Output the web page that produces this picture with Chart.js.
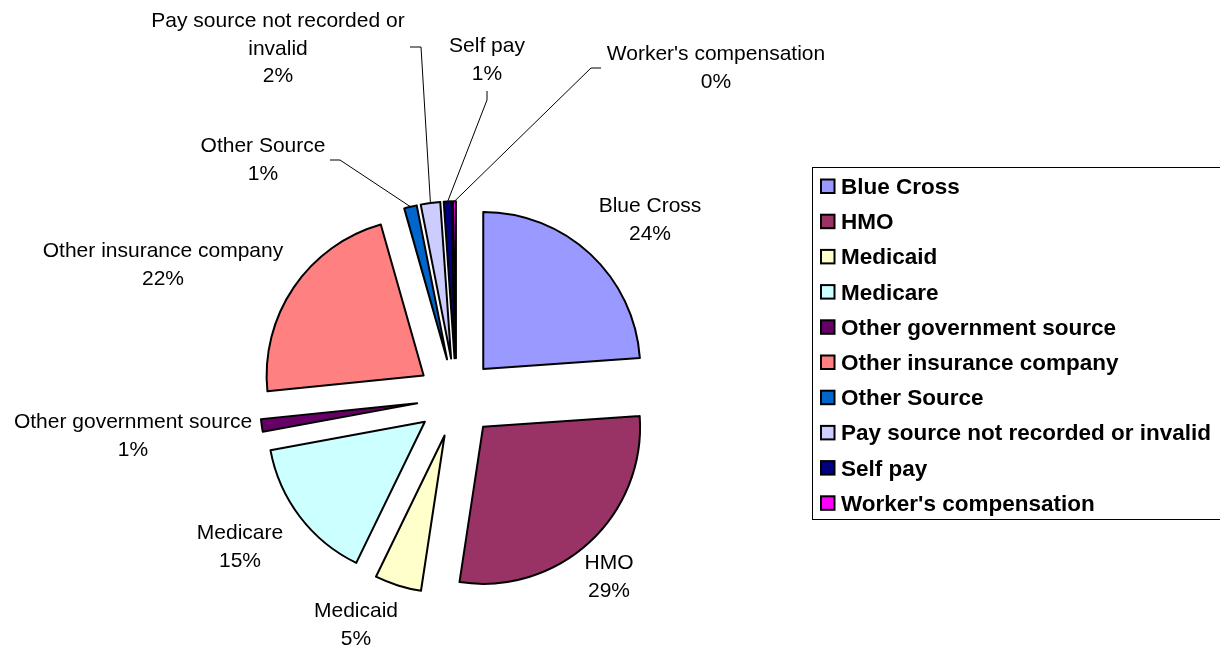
<!DOCTYPE html>
<html>
<head>
<meta charset="utf-8">
<script src="https://cdn.jsdelivr.net/npm/chart.js@4.4.0/dist/chart.umd.min.js"></script>
<style>
  html, body { margin: 0; padding: 0; background: #fff; }
  #wrap { width: 1220px; height: 647px; position: relative; }
</style>
</head>
<body>
<div id="wrap"><canvas id="payChart"></canvas></div>
<script>
// pay sources, clockwise from 12 o'clock
const categories = [
  'Blue Cross',
  'HMO',
  'Medicaid',
  'Medicare',
  'Other government source',
  'Other insurance company',
  'Other Source',
  'Pay source not recorded or invalid',
  'Self pay',
  "Worker's compensation"
];
// share of total, percent
const shares = [23.9, 28.5, 4.8, 14.9, 1.3, 22.2, 1.3, 2.0, 0.8, 0.3];

const sliceColors = [
  '#9999FF', '#993366', '#FFFFCC', '#CCFFFF', '#660066',
  '#FF8080', '#0066CC', '#CCCCFF', '#000080', '#FF00FF'
];

// where each data label sits: centre x, first baseline y, optional leader start
const labelPos = [
  { x: 650, y: 212 },
  { x: 609, y: 569 },
  { x: 356, y: 617 },
  { x: 240, y: 539 },
  { x: 133, y: 428 },
  { x: 163, y: 257 },
  { x: 263, y: 152, leader: [[330, 160], [340, 160]] },
  { x: 278, y: 27, leader: [[410, 47], [421, 47]] },
  { x: 487, y: 52, leader: [[487, 91], [487, 100]] },
  { x: 716, y: 60, leader: [[601, 68], [591, 68]] }
];

const EXPLODE = 39.5;
const FONT = '"Liberation Sans", Arial, sans-serif';

function wrapText(ctx, text, maxW) {
  const words = text.split(' ');
  const lines = [];
  let cur = '';
  for (const w of words) {
    const test = cur ? cur + ' ' + w : w;
    if (cur && ctx.measureText(test).width > maxW) {
      lines.push(cur);
      cur = w;
    } else {
      cur = test;
    }
  }
  lines.push(cur);
  return lines;
}

// push every slice out along its bisector (Excel style exploded pie)
const explodePlugin = {
  id: 'explode',
  afterDatasetUpdate(chart, args) {
    for (const arc of args.meta.data) {
      const mid = (arc.startAngle + arc.endAngle) / 2;
      arc.x += Math.cos(mid) * EXPLODE;
      arc.y += Math.sin(mid) * EXPLODE;
    }
  }
};

const labelPlugin = {
  id: 'sliceLabels',
  afterDraw(chart) {
    const ctx = chart.ctx;
    const arcs = chart.getDatasetMeta(0).data;
    const total = shares.reduce((a, b) => a + b, 0);
    ctx.save();
    ctx.font = '21px ' + FONT;
    ctx.fillStyle = '#000';
    ctx.textAlign = 'center';
    ctx.textBaseline = 'alphabetic';
    arcs.forEach((arc, i) => {
      const pos = labelPos[i];
      const lines = wrapText(ctx, categories[i], 265);
      lines.push(Math.round(shares[i] / total * 100) + '%');
      lines.forEach((t, k) => ctx.fillText(t, pos.x, pos.y + k * 27.5));
      if (pos.leader) {
        const mid = (arc.startAngle + arc.endAngle) / 2;
        const ex = arc.x + Math.cos(mid) * arc.outerRadius;
        const ey = arc.y + Math.sin(mid) * arc.outerRadius;
        ctx.beginPath();
        ctx.moveTo(pos.leader[0][0], pos.leader[0][1]);
        ctx.lineTo(pos.leader[1][0], pos.leader[1][1]);
        ctx.lineTo(ex, ey);
        ctx.strokeStyle = '#000';
        ctx.lineWidth = 1;
        ctx.stroke();
      }
    });
    ctx.restore();
  }
};

// boxed legend on the right
const legendPlugin = {
  id: 'boxLegend',
  afterDraw(chart) {
    const ctx = chart.ctx;
    const colors = chart.data.datasets[0].backgroundColor;
    ctx.save();
    ctx.strokeStyle = '#000';
    ctx.lineWidth = 1;
    ctx.strokeRect(812.5, 167.5, 420, 352);
    ctx.font = 'bold 22.5px ' + FONT;
    ctx.textAlign = 'left';
    ctx.textBaseline = 'alphabetic';
    chart.data.labels.forEach((lab, i) => {
      const cy = 186 + i * 35.2;
      ctx.fillStyle = colors[i];
      ctx.fillRect(821, cy - 6.5, 13.5, 13.5);
      ctx.lineWidth = 2;
      ctx.strokeRect(821, cy - 6.5, 13.5, 13.5);
      ctx.fillStyle = '#000';
      ctx.fillText(lab, 841, cy + 8);
    });
    ctx.restore();
  }
};

new Chart(document.getElementById('payChart'), {
  type: 'pie',
  data: {
    labels: categories,
    datasets: [{
      data: shares,
      backgroundColor: sliceColors,
      borderColor: '#000',
      borderWidth: 2,
      borderJoinStyle: 'round',
      hoverOffset: 0
    }]
  },
  options: {
    responsive: true,
    maintainAspectRatio: false,
    animation: false,
    radius: 157,
    layout: { padding: { left: 0, right: 307.4, top: 148.6, bottom: 0 } },
    plugins: {
      legend: { display: false },
      tooltip: { enabled: true }
    }
  },
  plugins: [explodePlugin, labelPlugin, legendPlugin]
});
</script>
</body>
</html>
